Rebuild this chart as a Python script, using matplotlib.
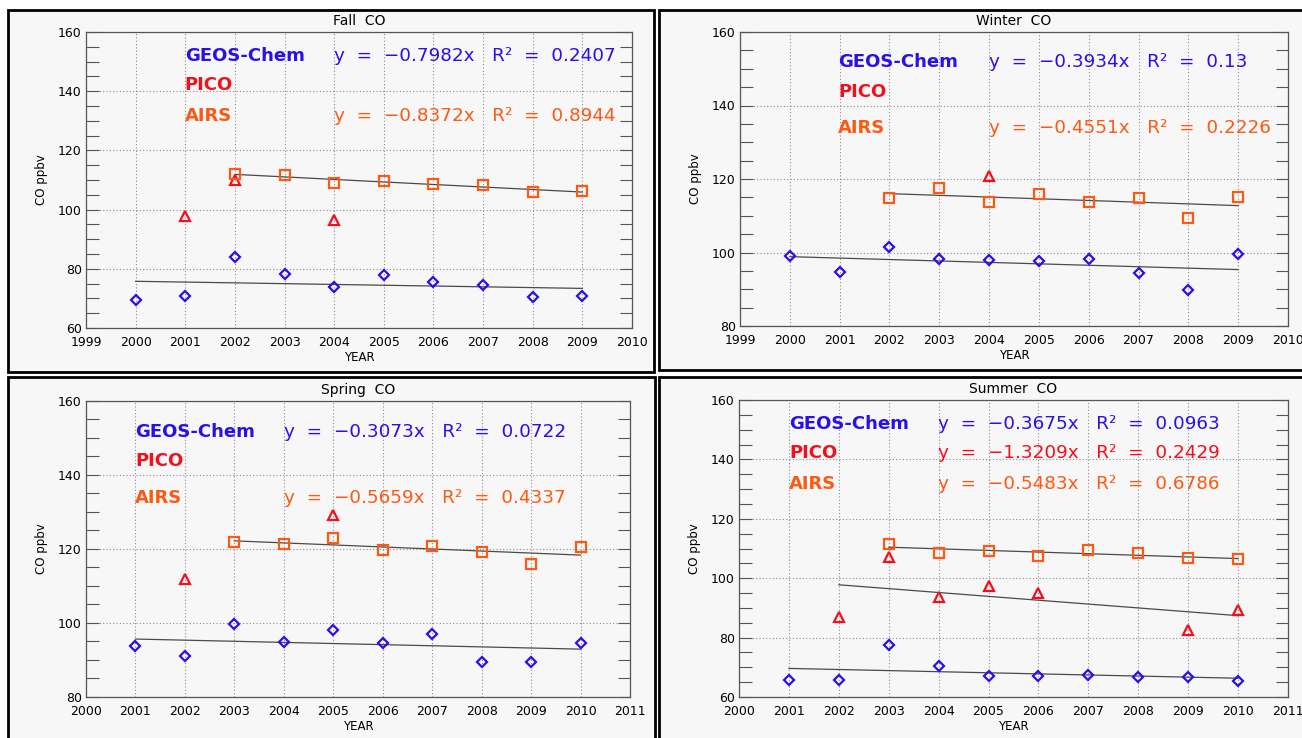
import numpy as np
import matplotlib.pyplot as plt
from matplotlib.patches import Rectangle

W, H = 1302, 738

BLUE = '#2a10e8'
RED = '#f2101c'
ORANGE = '#fa5a14'

# ---- data ----
fall_geos_years = [2000, 2001, 2002, 2003, 2004, 2005, 2006, 2007, 2008, 2009]
fall_geos = [69.5, 70.9, 84.1, 78.4, 73.9, 77.8, 75.4, 74.4, 70.6, 70.8]
fall_pico_years = [2001, 2002, 2004]
fall_pico = [97.8, 109.9, 96.4]
fall_airs_years = [2002, 2003, 2004, 2005, 2006, 2007, 2008, 2009]
fall_airs = [111.9, 111.7, 109.0, 109.8, 108.5, 108.2, 105.8, 106.4]

winter_geos_years = [2000, 2001, 2002, 2003, 2004, 2005, 2006, 2007, 2008, 2009]
winter_geos = [99.0, 94.8, 101.5, 98.1, 97.9, 97.7, 98.2, 94.5, 89.8, 99.6]
winter_pico_years = [2004]
winter_pico = [120.9]
winter_airs_years = [2002, 2003, 2004, 2005, 2006, 2007, 2008, 2009]
winter_airs = [114.9, 117.6, 113.7, 116.0, 113.7, 114.7, 109.5, 115.0]

spring_geos_years = [2001, 2002, 2003, 2004, 2005, 2006, 2007, 2008, 2009, 2010]
spring_geos = [93.7, 91.2, 99.6, 94.8, 98.2, 94.7, 97.1, 89.5, 89.5, 94.7]
spring_pico_years = [2002, 2005]
spring_pico = [111.8, 129.1]
spring_airs_years = [2003, 2004, 2005, 2006, 2007, 2008, 2009, 2010]
spring_airs = [121.8, 121.4, 122.9, 119.6, 120.9, 119.1, 116.0, 120.5]

summer_geos_years = [2001, 2002, 2003, 2004, 2005, 2006, 2007, 2008, 2009, 2010]
summer_geos = [65.8, 65.8, 77.5, 70.3, 67.0, 67.2, 67.5, 66.6, 66.6, 65.4]
summer_pico_years = [2002, 2003, 2004, 2005, 2006, 2009, 2010]
summer_pico = [87.0, 107.2, 93.6, 97.4, 94.9, 82.6, 89.3]
summer_airs_years = [2003, 2004, 2005, 2006, 2007, 2008, 2009, 2010]
summer_airs = [111.6, 108.6, 109.3, 107.6, 109.5, 108.4, 106.7, 106.5]

fall_eqs = {'geos': 'y  =  −0.7982x   R²  =  0.2407', 'airs': 'y  =  −0.8372x   R²  =  0.8944'}
winter_eqs = {'geos': 'y  =  −0.3934x   R²  =  0.13', 'airs': 'y  =  −0.4551x   R²  =  0.2226'}
spring_eqs = {'geos': 'y  =  −0.3073x   R²  =  0.0722', 'airs': 'y  =  −0.5659x   R²  =  0.4337'}
summer_eqs = {'geos': 'y  =  −0.3675x   R²  =  0.0963', 'pico': 'y  =  −1.3209x   R²  =  0.2429',
              'airs': 'y  =  −0.5483x   R²  =  0.6786'}


def add_box(fig, x0, y0, x1, y1):
    fig.patches.append(Rectangle((x0 / W, 1 - y1 / H), (x1 - x0) / W, (y1 - y0) / H,
                                 transform=fig.transFigure, facecolor='#f7f7f7',
                                 edgecolor='black', lw=2, zorder=-5))


def draw_panel(fig, px, title, xlim, ylim, data, eqs, label_x, eq_x, rows):
    l, t, r, b = px
    ax = fig.add_axes([l / W, 1 - b / H, (r - l) / W, (b - t) / H])
    ax.set_facecolor('#f7f7f7')
    ax.set_xlim(*xlim)
    ax.set_ylim(*ylim)
    ax.set_xticks(np.arange(xlim[0], xlim[1] + 1))
    ax.set_yticks(np.arange(ylim[0], ylim[1] + 1, 20))
    ax.set_yticks(np.arange(ylim[0], ylim[1] + 1, 5), minor=True)
    ax.tick_params(axis='x', length=0, pad=6, labelsize=9)
    ax.tick_params(axis='y', which='both', direction='in', length=9, width=0.8,
                   color='#555555', left=True, right=True, labelsize=9, pad=3)
    ax.grid(True, which='major', color='#8a8a8a', lw=0.8, linestyle=(0, (1, 2)))
    for s in ax.spines.values():
        s.set_color('#555555')
        s.set_linewidth(0.9)
    ax.set_title(title, fontsize=10, pad=5)
    ax.set_xlabel('YEAR', fontsize=8.5, labelpad=1)
    ax.set_ylabel('CO ppbv', fontsize=8.5, labelpad=7)

    styles = {'geos': ('D', BLUE, 5.2), 'pico': ('^', RED, 6.5), 'airs': ('s', ORANGE, 6.5)}
    for key, (yrs, vals) in data.items():
        mk, c, ms = styles[key]
        yrs = np.array(yrs, dtype=float)
        vals = np.array(vals, dtype=float)
        if key in eqs:
            p = np.polyfit(yrs, vals, 1)
            ax.plot([yrs[0], yrs[-1]], np.polyval(p, [yrs[0], yrs[-1]]),
                    color='#4a4a4a', lw=0.9, zorder=2)
        ax.plot(yrs, vals, linestyle='none', marker=mk, ms=ms, mfc='none',
                mec=c, mew=1.6, zorder=3)

    names = [('geos', 'GEOS-Chem', BLUE), ('pico', 'PICO', RED), ('airs', 'AIRS', ORANGE)]
    for (key, name, c), yy in zip(names, rows):
        ax.text(label_x, yy, name, transform=ax.transAxes, color=c, fontsize=13,
                fontweight='bold', va='center', ha='left')
        if key in eqs:
            ax.text(eq_x, yy, eqs[key], transform=ax.transAxes, color=c, fontsize=13.2,
                    va='center', ha='left')
    return ax


fig = plt.figure(figsize=(W / 100, H / 100), dpi=100)

add_box(fig, 8, 10, 654, 372)
add_box(fig, 659, 10, 1312, 370)
add_box(fig, 8, 377, 655, 748)
add_box(fig, 659, 377, 1312, 748)

draw_panel(fig, (86, 32, 632, 328), 'Fall  CO', (1999, 2010), (60, 160),
           {'geos': (fall_geos_years, fall_geos), 'pico': (fall_pico_years, fall_pico),
            'airs': (fall_airs_years, fall_airs)},
           fall_eqs, 0.181, 0.454, (0.919, 0.82, 0.717))

draw_panel(fig, (740, 32, 1288, 326), 'Winter  CO', (1999, 2010), (80, 160),
           {'geos': (winter_geos_years, winter_geos), 'pico': (winter_pico_years, winter_pico),
            'airs': (winter_airs_years, winter_airs)},
           winter_eqs, 0.179, 0.454, (0.897, 0.797, 0.672))

draw_panel(fig, (86, 401, 630, 697), 'Spring  CO', (2000, 2011), (80, 160),
           {'geos': (spring_geos_years, spring_geos), 'pico': (spring_pico_years, spring_pico),
            'airs': (spring_airs_years, spring_airs)},
           spring_eqs, 0.09, 0.364, (0.896, 0.798, 0.673))

draw_panel(fig, (739, 400, 1288, 697), 'Summer  CO', (2000, 2011), (60, 160),
           {'geos': (summer_geos_years, summer_geos), 'pico': (summer_pico_years, summer_pico),
            'airs': (summer_airs_years, summer_airs)},
           summer_eqs, 0.091, 0.363, (0.919, 0.82, 0.716))

fig.savefig('out.png', dpi=100)
